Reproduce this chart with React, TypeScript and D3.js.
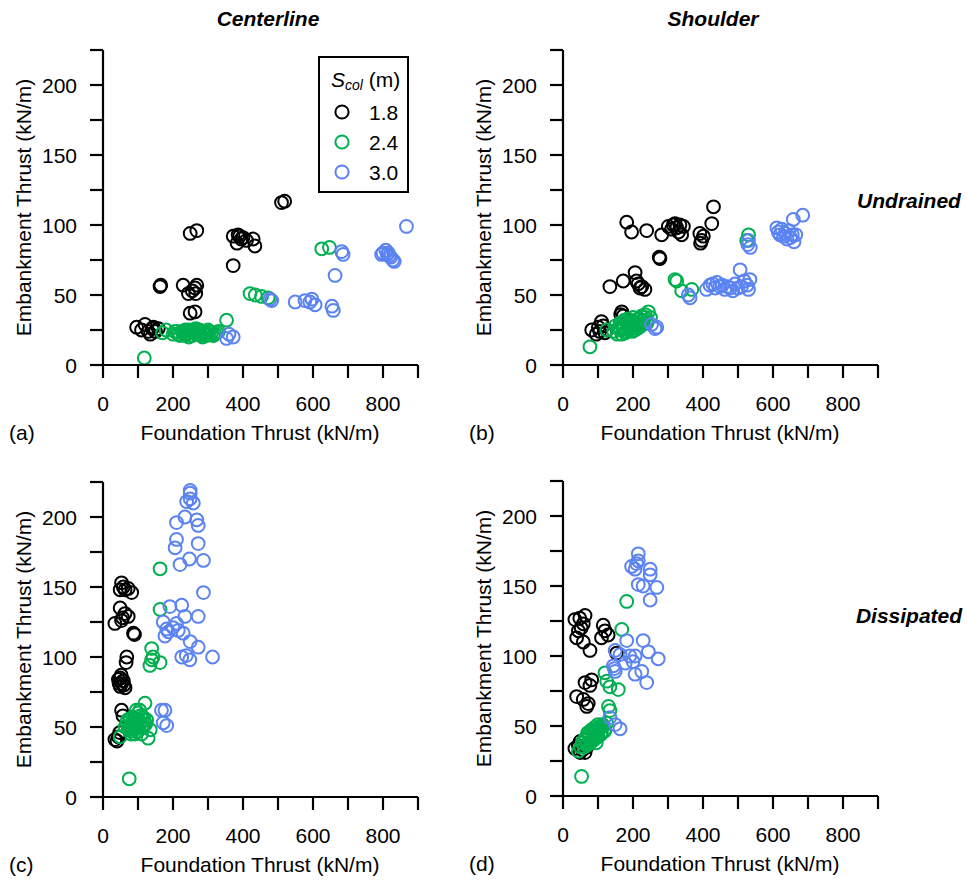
import React from "react";
import * as d3 from "d3";

type Pt = [number, number];

const seriesNames = ["1.8", "2.4", "3.0"];
const seriesColors = ["#000000", "#00b050", "#5b83f2"];

const aBlack: Pt[] = [[96,27],[120,29],[129,24],[144,27],[158,26],[110,25],[135,22],[150,24],[140,26],[163,56],[165,57],[229,57],[244,51],[263,55],[268,57],[265,51],[255,53],[249,37],[263,38],[249,94],[268,96],[372,71],[372,92],[386,93],[395,90],[410,89],[429,90],[434,85],[383,87],[400,91],[390,92],[510,116],[519,117]];
const aGreen: Pt[] = [[118,5],[180,25],[170,23],[200,22],[205,24],[210,24],[215,22],[220,21],[225,24],[230,23],[235,21],[240,22],[245,25],[250,24],[255,21],[258,25],[260,23],[265,22],[270,22],[272,25],[275,25],[278,22],[280,21],[285,24],[290,23],[295,21],[300,22],[305,24],[310,23],[315,21],[320,22],[325,23],[330,24],[265,26],[245,20],[285,20],[253,23],[235,25],[300,25],[353,32],[420,51],[435,50],[453,49],[472,48],[625,83],[647,84]];
const aBlue: Pt[] = [[353,19],[372,20],[360,22],[477,47],[482,46],[549,45],[577,46],[591,45],[606,43],[597,47],[654,42],[658,39],[663,64],[682,81],[686,79],[796,79],[800,80],[808,82],[812,79],[818,78],[822,77],[828,75],[832,74],[815,80],[867,99]];

const bBlack: Pt[] = [[82,25],[101,27],[110,31],[120,23],[126,25],[95,22],[115,28],[105,24],[134,56],[172,60],[168,38],[172,35],[165,36],[206,66],[210,60],[225,56],[234,54],[215,58],[220,55],[182,102],[196,95],[239,96],[277,76],[275,77],[282,93],[301,99],[320,101],[325,98],[334,100],[344,99],[339,93],[310,97],[330,95],[315,100],[391,94],[396,89],[401,92],[393,87],[425,101],[430,113]];
const bGreen: Pt[] = [[77,13],[125,25],[145,24],[150,28],[155,22],[158,26],[160,27],[163,30],[165,25],[168,22],[170,30],[172,26],[175,27],[178,23],[180,24],[182,31],[185,29],[188,25],[190,26],[193,28],[195,31],[198,24],[200,28],[203,31],[205,25],[208,28],[210,30],[212,26],[215,33],[218,27],[220,29],[223,31],[225,35],[228,29],[230,32],[233,34],[235,36],[238,31],[244,38],[240,30],[250,34],[185,33],[200,34],[175,32],[320,61],[325,60],[339,53],[368,54],[530,93],[525,89]];
const bBlue: Pt[] = [[253,29],[263,26],[268,27],[358,50],[363,48],[410,54],[420,57],[428,58],[435,55],[440,59],[448,56],[455,57],[462,54],[470,56],[478,55],[485,53],[492,58],[500,55],[510,56],[518,60],[526,57],[534,61],[506,68],[530,54],[530,89],[535,84],[528,86],[611,98],[615,95],[620,93],[625,97],[630,92],[635,94],[640,90],[645,96],[650,91],[655,93],[660,88],[665,93],[658,104],[685,107]];

const cBlack: Pt[] = [[34,41],[40,40],[44,43],[48,46],[53,62],[57,58],[49,85],[53,81],[63,78],[49,79],[44,84],[58,83],[52,87],[60,80],[46,81],[68,100],[66,96],[34,124],[53,126],[63,131],[72,129],[49,135],[56,128],[87,117],[90,116],[53,153],[63,148],[72,149],[82,146],[49,148],[58,150]];
const cGreen: Pt[] = [[75,13],[49,43],[63,50],[68,53],[70,55],[72,49],[75,48],[78,56],[80,52],[83,47],[85,57],[88,53],[90,50],[92,56],[95,54],[97,49],[100,47],[102,55],[105,52],[107,58],[110,58],[112,51],[115,50],[118,55],[120,67],[122,52],[125,55],[100,60],[90,45],[110,45],[129,42],[135,48],[80,45],[95,62],[105,62],[85,50],[115,57],[139,106],[134,94],[139,98],[143,100],[163,96],[163,134],[163,163]];
const cBlue: Pt[] = [[167,62],[177,62],[182,51],[172,53],[191,136],[225,137],[172,125],[182,120],[177,115],[187,118],[210,124],[234,129],[229,117],[215,119],[200,121],[272,129],[249,111],[272,107],[225,100],[238,101],[248,98],[313,100],[287,146],[287,169],[220,166],[247,170],[206,178],[210,184],[272,181],[210,196],[234,200],[268,198],[272,194],[249,217],[249,213],[239,211],[258,210],[249,219]];

const dBlack: Pt[] = [[34,34],[49,31],[63,31],[44,36],[49,39],[68,35],[56,33],[39,71],[58,69],[68,64],[72,66],[63,81],[82,83],[77,79],[34,126],[63,129],[58,123],[48,127],[39,113],[58,110],[77,104],[44,118],[52,120],[115,122],[120,118],[110,113],[129,115],[153,102]];
const dGreen: Pt[] = [[53,14],[44,32],[50,35],[55,38],[60,35],[63,41],[65,40],[68,36],[70,37],[73,44],[75,42],[78,38],[80,39],[83,46],[85,44],[88,40],[90,41],[93,47],[95,46],[98,42],[100,43],[103,49],[105,48],[108,44],[110,45],[113,51],[115,50],[118,46],[120,47],[125,52],[80,47],[95,38],[70,45],[90,49],[100,51],[130,64],[134,61],[120,88],[125,82],[134,78],[158,76],[168,119],[182,139]];
const dBlue: Pt[] = [[134,56],[149,51],[163,48],[144,93],[149,89],[147,91],[149,104],[163,101],[182,111],[191,100],[206,100],[229,111],[244,103],[272,98],[206,87],[225,89],[239,81],[178,95],[200,96],[215,151],[229,150],[268,149],[249,140],[196,164],[206,162],[249,162],[249,158],[215,173],[215,168],[210,166]];

const xTicks = [0, 100, 200, 300, 400, 500, 600, 700, 800, 900];
const xTickLabels = [0, 200, 400, 600, 800];
const yTicks = [0, 25, 50, 75, 100, 125, 150, 175, 200, 225];
const yTickLabels = [0, 50, 100, 150, 200];

const FONT = "'Liberation Sans', Arial, sans-serif";
const FS = 21;

interface PanelProps {
  x0: number;
  y0: number;
  label: string;
  series: Pt[][];
}

function Panel({ x0, y0, label, series }: PanelProps) {
  const x = d3.scaleLinear().domain([0, 900]).range([x0, x0 + 315]);
  const y = d3.scaleLinear().domain([0, 225]).range([y0, y0 - 315]);
  const tick = 13;
  return (
    <g>
      {series.map((pts, si) => (
        <g key={si}>
          {pts.map((p, i) => (
            <circle key={i} cx={x(p[0])} cy={y(p[1])} r={6.4} fill="none" stroke={seriesColors[si]} strokeWidth={2} />
          ))}
        </g>
      ))}
      <line x1={x0} x2={x0} y1={y(225)} y2={y0} stroke="#000" strokeWidth={2.2} />
      <line x1={x0} x2={x(900)} y1={y0} y2={y0} stroke="#000" strokeWidth={2.2} />
      {yTicks.map((t) => (
        <line key={"yt" + t} x1={x0 - tick} x2={x0} y1={y(t)} y2={y(t)} stroke="#000" strokeWidth={2.2} />
      ))}
      {xTicks.map((t) => (
        <line key={"xt" + t} x1={x(t)} x2={x(t)} y1={y0} y2={y0 + tick} stroke="#000" strokeWidth={2.2} />
      ))}
      {yTickLabels.map((t) => (
        <text key={"yl" + t} x={x0 - 26} y={y(t)} textAnchor="end" dominantBaseline="central" fontFamily={FONT} fontSize={FS}>{t}</text>
      ))}
      {xTickLabels.map((t) => (
        <text key={"xl" + t} x={x(t)} y={y0 + 38} textAnchor="middle" dominantBaseline="central" fontFamily={FONT} fontSize={FS}>{t}</text>
      ))}
      <text x={x0 + 157} y={y0 + 67} textAnchor="middle" dominantBaseline="central" fontFamily={FONT} fontSize={FS}>Foundation Thrust (kN/m)</text>
      <text transform={`translate(${x0 - 80},${(y(225) + y0) / 2}) rotate(-90)`} textAnchor="middle" dominantBaseline="central" fontFamily={FONT} fontSize={FS}>Embankment Thrust (kN/m)</text>
      <text x={x0 - 94} y={y0 + 67} dominantBaseline="central" fontFamily={FONT} fontSize={FS}>{label}</text>
    </g>
  );
}

export default function App() {
  return (
    <svg width={967} height={880} style={{ display: "block", position: "absolute", left: 0, top: 0, background: "#fff" }}>
      <rect x={0} y={0} width={967} height={880} fill="#fff" />
      <text x={268} y={18} textAnchor="middle" dominantBaseline="central" fontFamily={FONT} fontSize={FS} fontWeight="bold" fontStyle="italic">Centerline</text>
      <text x={713} y={18} textAnchor="middle" dominantBaseline="central" fontFamily={FONT} fontSize={FS} fontWeight="bold" fontStyle="italic">Shoulder</text>
      <text x={909} y={200} textAnchor="middle" dominantBaseline="central" fontFamily={FONT} fontSize={FS} fontWeight="bold" fontStyle="italic">Undrained</text>
      <text x={909} y={615} textAnchor="middle" dominantBaseline="central" fontFamily={FONT} fontSize={FS} fontWeight="bold" fontStyle="italic">Dissipated</text>
      <Panel x0={103} y0={365} label="(a)" series={[aBlack, aGreen, aBlue]} />
      <Panel x0={563} y0={365} label="(b)" series={[bBlack, bGreen, bBlue]} />
      <Panel x0={103} y0={797} label="(c)" series={[cBlack, cGreen, cBlue]} />
      <Panel x0={563} y0={796} label="(d)" series={[dBlack, dGreen, dBlue]} />
      <g>
        <rect x={319} y={57} width={89} height={135} fill="#fff" stroke="#000" strokeWidth={2} />
        <text x={331} y={79} dominantBaseline="central" fontFamily={FONT} fontSize={FS}>
          <tspan fontStyle="italic">S</tspan>
          <tspan fontStyle="italic" fontSize={14} dy={6}>col</tspan>
          <tspan dy={-6}> (m)</tspan>
        </text>
        {seriesNames.map((s, i) => (
          <g key={s}>
            <circle cx={342} cy={112 + i * 30} r={6.6} fill="none" stroke={seriesColors[i]} strokeWidth={2} />
            <text x={369} y={112 + i * 30} dominantBaseline="central" fontFamily={FONT} fontSize={FS}>{s}</text>
          </g>
        ))}
      </g>
    </svg>
  );
}
